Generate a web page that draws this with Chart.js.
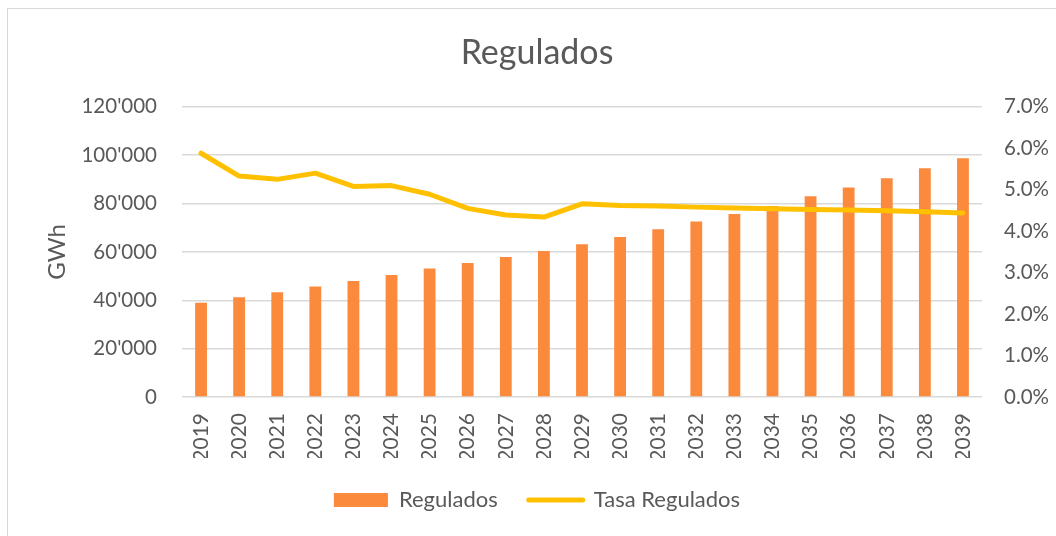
<!DOCTYPE html>
<html>
<head>
<meta charset="utf-8">
<script src="https://cdn.jsdelivr.net/npm/chart.js@4"></script>
<style>
  body { margin: 0; background: #fff; overflow: hidden; }
  #marco { position: absolute; left: 7px; top: 8px; width: 1200px; height: 700px; border: 1px solid #d9d9d9; }
  canvas { position: absolute; left: 0; top: 0; }
</style>
</head>
<body>
<div id="marco"></div>
<canvas id="grafico" width="1056" height="536"></canvas>
<script>
// Datos
const anios = ['2019', '2020', '2021', '2022', '2023', '2024', '2025', '2026', '2027', '2028', '2029',
  '2030', '2031', '2032', '2033', '2034', '2035', '2036', '2037', '2038', '2039'];
const regulados = [39000, 41250, 43300, 45650, 48000, 50480, 53100, 55440, 57920, 60400, 63170,
  66200, 69380, 72530, 75710, 79020, 83030, 86600, 90480, 94620, 98760];
const tasaRegulados = [5.88, 5.33, 5.25, 5.40, 5.08, 5.10, 4.89, 4.55, 4.39, 4.34, 4.66,
  4.62, 4.61, 4.58, 4.56, 4.54, 4.52, 4.51, 4.49, 4.47, 4.44];

const colorTexto = '#595959';
const naranja = '#FB8A3C';
const amarillo = '#FFC000';
const fuente = 'Lato, Carlito, Calibri, sans-serif';

function miles(v) {
  return String(v).replace(/\B(?=(\d{3})+(?!\d))/g, "'");
}

// la leyenda usa padding grande para separar items, pero su alto se fija aparte
const altoLeyenda = {
  id: 'altoLeyenda',
  beforeUpdate: function(chart) {
    const ley = chart.legend;
    if (ley && !ley._ajustada) {
      const fitOriginal = ley.fit;
      ley.fit = function() {
        fitOriginal.call(this);
        this.height = 63;
      };
      ley._ajustada = true;
    }
  }
};

const ctx = document.getElementById('grafico').getContext('2d');
new Chart(ctx, {
  data: {
    labels: anios,
    datasets: [
      {
        type: 'bar',
        label: 'Regulados',
        data: regulados,
        backgroundColor: naranja,
        yAxisID: 'y',
        barPercentage: 0.62,
        categoryPercentage: 0.5,
        order: 1
      },
      {
        type: 'line',
        label: 'Tasa Regulados',
        data: tasaRegulados,
        borderColor: amarillo,
        backgroundColor: amarillo,
        borderWidth: 5,
        borderCapStyle: 'round',
        borderJoinStyle: 'round',
        pointRadius: 0,
        tension: 0,
        yAxisID: 'y1',
        order: 0
      }
    ]
  },
  plugins: [altoLeyenda],
  options: {
    responsive: false,
    animation: false,
    layout: { padding: { left: 18, right: 0, top: 0, bottom: 15 } },
    plugins: {
      tooltip: { enabled: false },
      title: {
        display: true,
        text: 'Regulados',
        color: colorTexto,
        font: { family: fuente, size: 34, weight: 'normal' },
        padding: { top: 33, bottom: 33 }
      },
      legend: {
        position: 'bottom',
        labels: {
          color: colorTexto,
          font: { family: fuente, size: 22 },
          usePointStyle: true,
          pointStyleWidth: 54,
          boxHeight: 14,
          padding: 31,
          generateLabels: function() {
            return [
              { text: 'Regulados', fillStyle: naranja, strokeStyle: naranja, lineWidth: 0, pointStyle: 'rect', fontColor: colorTexto, datasetIndex: 0 },
              { text: 'Tasa Regulados', fillStyle: amarillo, strokeStyle: amarillo, lineWidth: 5, lineCap: 'round', pointStyle: 'line', fontColor: colorTexto, datasetIndex: 1 }
            ];
          }
        }
      }
    },
    scales: {
      x: {
        grid: { display: false, drawTicks: false },
        border: { display: false },
        ticks: {
          color: colorTexto,
          font: { family: fuente, size: 21 },
          minRotation: 90,
          maxRotation: 90,
          padding: 16
        },
        afterFit: function(scale) { scale.height = 61; }
      },
      y: {
        position: 'left',
        min: 0,
        max: 120000,
        grid: { color: '#d9d9d9', lineWidth: 1.5, drawTicks: false },
        border: { display: false },
        ticks: {
          stepSize: 20000,
          color: colorTexto,
          font: { family: fuente, size: 20.5 },
          padding: 25,
          callback: function(v) { return miles(v); }
        },
        title: {
          display: true,
          text: 'GWh',
          color: colorTexto,
          font: { family: fuente, size: 24 },
          padding: { top: 25, bottom: 0 }
        },
        afterFit: function(scale) { scale.width = 164; }
      },
      y1: {
        position: 'right',
        min: 0,
        max: 7,
        grid: { display: false, drawTicks: false },
        border: { display: false },
        ticks: {
          stepSize: 1,
          color: colorTexto,
          font: { family: fuente, size: 20.5 },
          padding: 22,
          callback: function(v) { return v.toFixed(1) + '%'; }
        },
        afterFit: function(scale) { scale.width = 74; }
      }
    }
  }
});
</script>
</body>
</html>
